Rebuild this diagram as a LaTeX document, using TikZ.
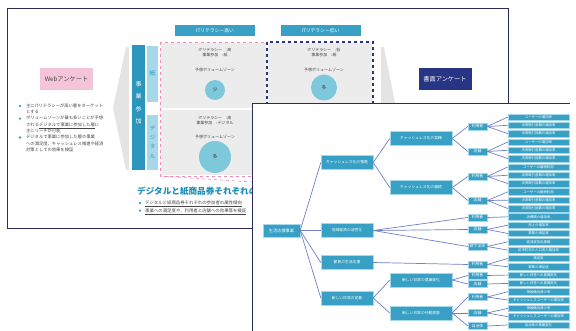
\documentclass[tikz,border=0pt]{standalone}
\usepackage{fontspec}
\setmainfont{Noto Sans CJK JP}
\usepackage{tikz}
\usetikzlibrary{positioning}
\usepackage{xcolor}
\definecolor{navyline}{RGB}{44,44,92}
\definecolor{tealbox}{RGB}{56,160,196}
\definecolor{tealdark}{RGB}{42,150,188}
\definecolor{lightteal}{RGB}{166,216,234}
\definecolor{panelgrey}{RGB}{236,236,236}
\definecolor{wedgegrey}{RGB}{228,228,228}
\definecolor{pinkbox}{RGB}{245,196,216}
\definecolor{pinkdash}{RGB}{232,140,180}
\definecolor{navybox}{RGB}{40,52,132}
\definecolor{edgeblue}{RGB}{112,128,200}
\definecolor{circleblue}{RGB}{126,200,220}
\definecolor{titleblue}{RGB}{30,140,185}
\definecolor{bodygrey}{RGB}{70,70,70}
\tikzset{
  treebox/.style={fill=tealbox, draw=lightteal, line width=0.4pt, text=white,
    inner sep=0pt, font=\fontsize{3.8}{4}\selectfont},
  rootbox/.style={treebox, minimum width=37pt, minimum height=13pt, font=\fontsize{4.2}{4.5}\selectfont},
  lvlone/.style={treebox, minimum width=52pt, minimum height=14pt},
  lvltwo/.style={treebox, minimum width=62pt, minimum height=14pt},
  lvlthree/.style={treebox, minimum width=19pt, minimum height=7pt},
  leafbox/.style={treebox, minimum width=61pt, minimum height=6.4pt, font=\fontsize{3.4}{3.5}\selectfont},
  link/.style={draw=edgeblue, line width=0.7pt},
  header/.style={fill=tealbox, text=white, minimum width=80pt, minimum height=11pt,
    inner sep=0pt, font=\fontsize{4.8}{5}\selectfont},
  cell/.style={text=bodygrey, align=center, inner sep=0pt, font=\fontsize{4}{5.6}\selectfont},
  zone/.style={fill=circleblue, circle, inner sep=0pt, text=bodygrey, font=\fontsize{5}{5}\selectfont},
  survey/.style={minimum width=53pt, minimum height=22pt, inner sep=0pt, font=\fontsize{6.2}{6.5}\selectfont},
  vbar/.style={align=center, inner sep=0pt, font=\fontsize{6}{12.5}\selectfont},
}

\begin{document}
\begin{tikzpicture}[x=1pt,y=-1pt]
    \useasboundingbox (0,0) rectangle (576,331);
    % back slide
    \draw[navyline,line width=0.8pt] (7,8) rectangle (508,228);
    \node[survey,fill=pinkbox,text=bodygrey] (web) at (66.5,79) {Webアンケート};
    \node[survey,fill=navybox,text=white] (paper) at (445,79.5) {書面アンケート};
    \node[anchor=north west,align=left,inner sep=0pt,text=bodygrey,
          font=\fontsize{4.3}{6.3}\selectfont] (notes) at (26,103.5)
        {主にITリテラシーが高い層をターゲット\\
         とする\\
         ボリュームゾーンが最も多いことが予想\\
         される\underline{デジタルで事業に参加した層}に\\
         主にリーチが可能\\
         デジタルで事業に参加した層の事業\\
         への満足度、キャッシュレス推進や経済\\
         対策としての効果を検証};
    \foreach \y in {106,118.6,137.5}
        \fill[tealbox] (20,\y) circle (1.3pt);
    \fill[wedgegrey] (126,47) -- (113,108) -- (126,170) -- (129,170) -- (129,47) -- cycle;
    \fill[wedgegrey] (381,47) -- (381,170) -- (384,170) -- (396,108) -- (384,47) -- cycle;
    \fill[tealdark] (132,45) rectangle (145,170);
    \node[vbar,text=white] (join) at (138.5,102.5) {事\\業\\参\\加};
    \fill[lightteal] (147,46) rectangle (158,102);
    \fill[lightteal] (147,115) rectangle (158,170);
    \node[vbar,text=tealdark] (paperside) at (152.5,73) {紙};
    \node[vbar,text=tealdark,font=\fontsize{5.5}{9.3}\selectfont] (digiside) at (152.5,142) {デ\\ジ\\タ\\ル};
    \node[header] (high) at (215,30.5) {ITリテラシー高い};
    \node[header] (low) at (320.5,30.5) {ITリテラシー低い};
    \fill[panelgrey] (161,43) rectangle (266,108.5);
    \fill[panelgrey] (161,110.5) rectangle (266,175);
    \fill[panelgrey] (268,43) rectangle (372,108.5);
    \fill[panelgrey] (268,110.5) rectangle (372,175);
    \draw[pinkdash,dashed,line width=0.8pt] (160,42) rectangle (267,176);
    \draw[pinkdash,dashed,line width=0.6pt] (160,176) -- (252,182);
    \draw[navybox,dashed,line width=1.2pt] (267,42) rectangle (373,176);
    \node[cell] (hp) at (215,52.5) {ITリテラシー　:高\\事業参加　:紙};
    \node[cell] (hpz) at (215,70) {予想ボリュームゾーン};
    \node[zone,minimum size=20pt] (few) at (215,90) {少};
    \node[cell] (hd) at (215,120.5) {ITリテラシー　:高\\事業参加　:デジタル};
    \node[cell] (hdz) at (215,137) {予想ボリュームゾーン};
    \node[zone,minimum size=32pt] (many) at (215,157) {多};
    \node[cell] (lp) at (324,52.5) {ITリテラシー　:低\\事業参加　:紙};
    \node[cell] (lpz) at (324,69.5) {予想ボリュームゾーン};
    \node[zone,minimum size=26pt] (lmany) at (324,87.5) {多};
    \node[anchor=west,inner sep=0pt,text=titleblue,font=\fontsize{8.6}{9}\selectfont\bfseries]
        (title) at (137,191) {デジタルと紙商品券それぞれの効果検証};
    \node[anchor=north west,align=left,inner sep=0pt,text=bodygrey,
          font=\fontsize{4.4}{7.6}\selectfont] (sum) at (145,200.5)
        {\underline{デジタルと紙商品券それぞれの参加者の属性傾向}\\
         \underline{事業への満足度や、利用者と店舗への効果等を検証}};
    \fill[tealbox] (140,203) circle (1.3pt);
    \fill[tealbox] (140,210.6) circle (1.3pt);
    % front slide
    \fill[white] (252,103) rectangle (580,335);
    \draw[navyline,line width=0.8pt] (252,335) -- (252,103) -- (570,103);
    \node[rootbox] (root) at (281.5,230.5) {生活応援事業};
    \node[lvlone] (a1) at (347,162.5) {キャッシュレス化の推進};
    \node[lvlone] (a2) at (347,230.5) {地域経済の活性化};
    \node[lvlone] (a3) at (347,262.5) {都民の生活応援};
    \node[lvlone] (a4) at (347,298) {新しい日常の定着};
    \node[lvltwo] (b1) at (421,138.5) {キャッシュレス化の契機};
    \node[lvltwo] (b2) at (421,187.5) {キャッシュレス化の継続};
    \node[lvltwo] (b3) at (421,280) {新しい日常の意識変化};
    \node[lvltwo] (b4) at (421,313) {新しい日常の行動変容};
    \foreach \n/\y/\t in {c1/126.5/利用者, c2/151.5/店舗, c3/176.5/利用者, c4/200.5/店舗,
        c5/217.5/利用者, c6/229.5/店舗, c7/246.5/都下全体, c8/264.5/利用者,
        c9/275.5/利用者, c10/284/店舗, c11/297/利用者, c12/313/店舗, c13/326/自治体}
        \node[lvlthree] (\n) at (477.5,\y) {\t};
    \foreach \i/\t in {1/ユーザーの増加率, 2/決済取引金額の増加率, 3/決済取引回数の増加率,
        4/ユーザーの増加率, 5/決済取引金額の増加率, 6/決済取引回数の増加率,
        7/ユーザーの継続利用, 8/決済取引金額の増加率, 9/決済取引回数の増加率,
        10/ユーザーの継続利用, 11/決済取引金額の増加率, 12/決済取引回数の増加率,
        13/消費額の増加率, 14/売上の増加率, 15/事業の満足度, 16/経済波及効果額,
        17/区市町村の人口流入増加率, 18/満足度, 19/事業の満足度,
        20/新しい日常への意識変化, 21/新しい日常への意識変化, 22/接触機会減少率,
        23/キャッシュレスユーザーの増加率, 24/接触機会減少率,
        25/キャッシュレスユーザーの増加率, 26/自治体の意識変化}
        \node[leafbox] (leaf\i) at (538.5,{117+8.32*(\i-1)}) {\t};
    \foreach \a/\b in {root/a1, root/a2, root/a3, root/a4, a1/b1, a1/b2,
        a2/c5, a2/c6, a2/c7, a3/c8, a4/b3, a4/b4, b1/c1, b1/c2, b2/c3, b2/c4,
        b3/c9, b3/c10, b4/c11, b4/c12, b4/c13}
        \draw[link] (\a.east) -- (\b.west);
    \foreach \a/\l in {c1/1, c1/2, c1/3, c2/4, c2/5, c2/6, c3/7, c3/8, c3/9,
        c4/10, c4/11, c4/12, c5/13, c6/14, c6/15, c7/16, c7/17, c8/18, c8/19,
        c9/20, c10/21, c11/22, c11/23, c12/24, c12/25, c13/26}
        \draw[link] (\a.east) -- (leaf\l.west);
\end{tikzpicture}
\end{document}
